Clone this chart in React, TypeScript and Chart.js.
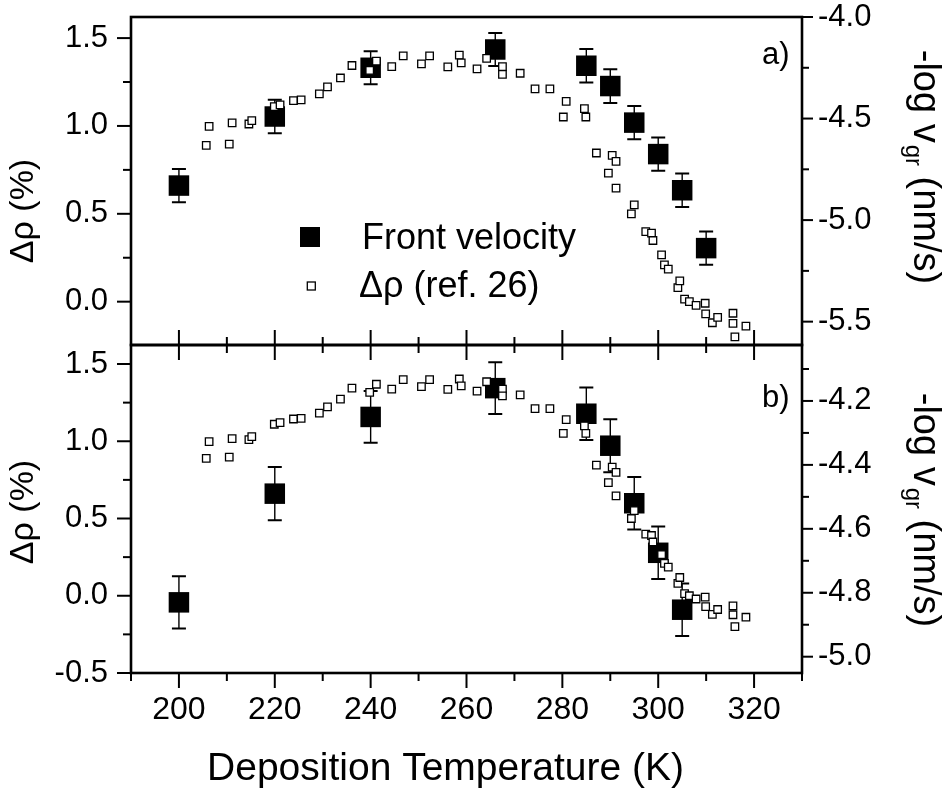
import React, { useEffect, useRef } from "react";
import { Chart, registerables } from "chart.js";

Chart.register(...registerables);

// Front velocity: -log v_gr (nm/s) vs deposition temperature (K)
const frontTemps = [200, 220, 240, 266, 285, 290, 295, 300, 305, 310];
const frontLogV = [-4.83, -4.49, -4.25, -4.16, -4.24, -4.34, -4.52, -4.675, -4.853, -5.138];
const frontErr = [0.082, 0.083, 0.081, 0.081, 0.082, 0.083, 0.082, 0.082, 0.082, 0.082];

// Δρ (ref. 26), %
const refTemps = [
  205.7, 206.3, 210.5, 211.1, 214.6, 215.2, 219.9, 221.1, 223.9, 225.5,
  229.3, 231.0, 233.7, 236.1, 239.8, 241.2, 244.4, 246.8, 250.6, 252.3,
  256.1, 258.5, 258.9, 262.2, 264.2, 267.5, 267.5, 271.2, 274.3, 277.4,
  280.2, 280.8, 284.6, 284.9, 287.1, 289.6, 290.4, 291.2, 291.2, 294.4,
  295.0, 297.4, 298.6, 298.9, 300.7, 301.3, 302.1, 304.1, 304.5, 305.5,
  306.5, 307.9, 309.8, 309.9, 311.3, 312.4, 315.6, 315.6, 316.0, 318.3,
];
const refRho = [
  0.889, 0.998, 0.897, 1.017, 1.011, 1.03, 1.11, 1.12, 1.144, 1.148,
  1.182, 1.222, 1.273, 1.344, 1.316, 1.369, 1.338, 1.399, 1.353, 1.399,
  1.336, 1.403, 1.359, 1.325, 1.385, 1.338, 1.294, 1.3, 1.211, 1.211,
  1.051, 1.14, 1.099, 1.051, 0.846, 0.732, 0.832, 0.798, 0.646, 0.5,
  0.551, 0.399, 0.39, 0.348, 0.266, 0.209, 0.185, 0.08, 0.118, 0.014,
  0.0, -0.021, -0.009, -0.07, -0.12, -0.089, -0.066, -0.123, -0.2, -0.139,
];

// Labelled (major) ticks
const xMajorTicks = [200, 220, 240, 260, 280, 300, 320];
const leftMajorA = [0, 0.5, 1.0, 1.5];
const rightMajorA = [-4.0, -4.5, -5.0, -5.5];
const leftMajorB = [-0.5, 0, 0.5, 1.0, 1.5];
const rightMajorB = [-4.2, -4.4, -4.6, -4.8, -5.0];

const FONT = '"Liberation Sans", Arial, Helvetica, sans-serif';
const W = 942;
const H = 789;
const AREA_LEFT = 131;
const AREA_RIGHT = 802;

type Panel = {
  key: "a" | "b";
  top: number;
  bottom: number;
  yMin: number;
  yMax: number;
  yStep: number;
  yMajor: number[];
  y2Min: number;
  y2Max: number;
  y2Step: number;
  y2Major: number[];
  label: string;
  labelBaseline: number;
  leftTitleY: number;
  rightTitleY: number;
};

const panels: Panel[] = [
  {
    key: "a",
    top: 17,
    bottom: 345,
    yMin: -0.2466,
    yMax: 1.62,
    yStep: 0.25,
    yMajor: leftMajorA,
    y2Min: -5.615,
    y2Max: -4.0,
    y2Step: 0.25,
    y2Major: rightMajorA,
    label: "a)",
    labelBaseline: 64,
    leftTitleY: 211,
    rightTitleY: 167,
  },
  {
    key: "b",
    top: 345,
    bottom: 673,
    yMin: -0.5,
    yMax: 1.623,
    yStep: 0.25,
    yMajor: leftMajorB,
    y2Min: -5.051,
    y2Max: -4.025,
    y2Step: 0.1,
    y2Major: rightMajorB,
    label: "b)",
    labelBaseline: 407,
    leftTitleY: 512,
    rightTitleY: 510,
  },
];

const near = (a: number, b: number) => Math.abs(a - b) < 1e-6;
const inList = (v: number, list: number[]) => list.some((m) => near(m, v));
const fmt = (v: number) => (Math.abs(v) < 1e-9 ? "0.0" : v.toFixed(1));

const zeroPadding = (s: any) => {
  s.paddingTop = 0;
  s.paddingBottom = 0;
  s.paddingLeft = 0;
  s.paddingRight = 0;
};

function makePlugin(panel: Panel) {
  return {
    id: "panelDeco" + panel.key,
    beforeDatasetsDraw(chart: any) {
      const { ctx, chartArea: a } = chart;
      const xs = chart.scales.x;
      const ys = chart.scales.y2;
      ctx.save();
      ctx.beginPath();
      ctx.rect(a.left, a.top, a.right - a.left, a.bottom - a.top);
      ctx.clip();
      ctx.strokeStyle = "#000";
      for (let i = 0; i < frontTemps.length; i++) {
        const px = xs.getPixelForValue(frontTemps[i]);
        const pTop = ys.getPixelForValue(frontLogV[i] + frontErr[i]);
        const pBot = ys.getPixelForValue(frontLogV[i] - frontErr[i]);
        ctx.lineWidth = 1.4;
        ctx.beginPath();
        ctx.moveTo(px, pTop);
        ctx.lineTo(px, pBot);
        ctx.stroke();
        ctx.lineWidth = 2;
        ctx.beginPath();
        ctx.moveTo(px - 7, pTop);
        ctx.lineTo(px + 7, pTop);
        ctx.moveTo(px - 7, pBot);
        ctx.lineTo(px + 7, pBot);
        ctx.stroke();
      }
      ctx.restore();
    },
    afterDraw(chart: any) {
      const { ctx, chartArea: a } = chart;
      const xs = chart.scales.x;
      const yl = chart.scales.y;
      const yr = chart.scales.y2;
      ctx.save();
      ctx.strokeStyle = "#000";
      ctx.fillStyle = "#000";

      const line = (x1: number, y1: number, x2: number, y2: number) => {
        ctx.beginPath();
        ctx.moveTo(x1, y1);
        ctx.lineTo(x2, y2);
        ctx.stroke();
      };

      // tick marks
      ctx.lineWidth = 2;
      for (const t of yl.ticks) {
        if (t.value < yl.min - 1e-9 || t.value > yl.max + 1e-9) continue;
        const p = yl.getPixelForValue(t.value);
        const len = inList(t.value, panel.yMajor) ? 14 : 8;
        line(a.left - len, p, a.left, p);
      }
      for (const t of yr.ticks) {
        if (t.value < yr.min - 1e-9 || t.value > yr.max + 1e-9) continue;
        const p = yr.getPixelForValue(t.value);
        const len = inList(t.value, panel.y2Major) ? 11 : 7;
        line(a.right, p, a.right + len, p);
      }
      for (const t of xs.ticks) {
        if (t.value < xs.min - 1e-9 || t.value > xs.max + 1e-9) continue;
        const p = xs.getPixelForValue(t.value);
        const len = inList(t.value, xMajorTicks) ? 15 : 8;
        if (panel.key === "a") {
          line(p, a.bottom, p, a.bottom - len);
        } else {
          line(p, a.top, p, a.top + len);
          line(p, a.bottom, p, a.bottom + len);
        }
      }

      // frame
      ctx.lineWidth = 2.6;
      ctx.strokeRect(a.left, a.top, a.right - a.left, a.bottom - a.top);

      // left title
      ctx.save();
      ctx.font = `34px ${FONT}`;
      ctx.textAlign = "center";
      ctx.textBaseline = "alphabetic";
      ctx.translate(33, panel.leftTitleY);
      ctx.rotate(-Math.PI / 2);
      ctx.fillText("Δρ (%)", 0, 0);
      ctx.restore();

      // right title with subscript
      ctx.save();
      const fBig = `38px ${FONT}`;
      const fSub = `24px ${FONT}`;
      ctx.font = fBig;
      const p1 = "-log v";
      const p3 = " (nm/s)";
      const w1 = ctx.measureText(p1).width;
      const w3 = ctx.measureText(p3).width;
      ctx.font = fSub;
      const w2 = ctx.measureText("gr").width + 2;
      const total = w1 + w2 + w3;
      ctx.translate(914, panel.rightTitleY);
      ctx.rotate(Math.PI / 2);
      ctx.textAlign = "left";
      ctx.textBaseline = "alphabetic";
      const s = -total / 2;
      ctx.font = fBig;
      ctx.fillText(p1, s, 0);
      ctx.font = fSub;
      ctx.fillText("gr", s + w1 + 2, 8);
      ctx.font = fBig;
      ctx.fillText(p3, s + w1 + w2, 0);
      ctx.restore();

      // panel label
      ctx.font = `31px ${FONT}`;
      ctx.textAlign = "left";
      ctx.textBaseline = "alphabetic";
      ctx.fillText(panel.label, 762, panel.labelBaseline);

      if (panel.key === "a") {
        // legend
        ctx.fillRect(300, 227, 20, 20);
        ctx.font = `36px ${FONT}`;
        ctx.fillText("Front velocity", 362, 249);
        ctx.fillStyle = "#fff";
        ctx.fillRect(307.3, 282, 8, 8);
        ctx.lineWidth = 1.3;
        ctx.strokeRect(307.3, 282, 8, 8);
        ctx.fillStyle = "#000";
        ctx.fillText("Δρ (ref. 26)", 359, 297);
      } else {
        // x title
        ctx.font = `39px ${FONT}`;
        ctx.textAlign = "center";
        ctx.fillText("Deposition Temperature (K)", 445.5, 780);
      }
      ctx.restore();
    },
  };
}

function makeChart(canvas: HTMLCanvasElement, panel: Panel) {
  const showX = panel.key === "b";
  return new Chart(canvas, {
    type: "scatter",
    data: {
      datasets: [
        {
          label: "Δρ (ref. 26)",
          data: refTemps.map((t, i) => ({ x: t, y: refRho[i] })),
          yAxisID: "y",
          pointStyle: "rect",
          pointRadius: 5.3,
          pointHoverRadius: 5.3,
          borderWidth: 1.3,
          borderColor: "#000",
          backgroundColor: "#fff",
          order: 0,
        },
        {
          label: "Front velocity",
          data: frontTemps.map((t, i) => ({ x: t, y: frontLogV[i] })),
          yAxisID: "y2",
          pointStyle: "rect",
          pointRadius: 14.5,
          pointHoverRadius: 14.5,
          borderWidth: 0,
          borderColor: "#000",
          backgroundColor: "#000",
          order: 1,
        },
      ],
    },
    options: {
      responsive: false,
      maintainAspectRatio: false,
      animation: false,
      events: [],
      layout: {
        padding: { left: 0, right: 0, top: panel.top, bottom: 0 },
        autoPadding: false,
      },
      plugins: {
        legend: { display: false },
        tooltip: { enabled: false },
      },
      scales: {
        x: {
          type: "linear",
          position: "bottom",
          min: 190,
          max: 330,
          grid: { display: false, drawTicks: false, tickLength: 0 },
          border: { display: false },
          ticks: {
            display: showX,
            stepSize: 10,
            autoSkip: false,
            maxRotation: 0,
            minRotation: 0,
            includeBounds: false,
            padding: 18,
            color: "#000",
            font: { family: FONT, size: 32 },
            callback: (v: any) => (inList(Number(v), xMajorTicks) ? String(Math.round(Number(v))) : ""),
          },
          afterFit: (s: any) => {
            s.height = H - panel.bottom;
            zeroPadding(s);
          },
        },
        y: {
          type: "linear",
          position: "left",
          min: panel.yMin,
          max: panel.yMax,
          grid: { display: false, drawTicks: false, tickLength: 0 },
          border: { display: false },
          ticks: {
            stepSize: panel.yStep,
            autoSkip: false,
            includeBounds: false,
            padding: 23,
            color: "#000",
            font: { family: FONT, size: 31 },
            callback: (v: any) => (inList(Number(v), panel.yMajor) ? fmt(Number(v)) : ""),
          },
          afterFit: (s: any) => {
            s.width = AREA_LEFT;
            zeroPadding(s);
          },
        },
        y2: {
          type: "linear",
          position: "right",
          min: panel.y2Min,
          max: panel.y2Max,
          grid: { display: false, drawTicks: false, tickLength: 0 },
          border: { display: false },
          ticks: {
            stepSize: panel.y2Step,
            autoSkip: false,
            includeBounds: false,
            padding: 16,
            color: "#000",
            font: { family: FONT, size: 31 },
            callback: (v: any) => (inList(Number(v), panel.y2Major) ? fmt(Number(v)) : ""),
          },
          afterFit: (s: any) => {
            s.width = W - AREA_RIGHT;
            zeroPadding(s);
          },
        },
      },
    } as any,
    plugins: [makePlugin(panel) as any],
  });
}

export default function App() {
  const refA = useRef<HTMLCanvasElement>(null);
  const refB = useRef<HTMLCanvasElement>(null);

  useEffect(() => {
    const charts: Chart[] = [];
    if (refA.current) charts.push(makeChart(refA.current, panels[0]));
    if (refB.current) charts.push(makeChart(refB.current, panels[1]));
    return () => charts.forEach((c) => c.destroy());
  }, []);

  const canvasStyle: React.CSSProperties = {
    position: "absolute",
    left: 0,
    top: 0,
    width: W,
    height: H,
  };

  return (
    <div
      style={{
        position: "absolute",
        left: 0,
        top: 0,
        width: W,
        height: H,
        background: "#fff",
        overflow: "hidden",
      }}
    >
      <canvas ref={refA} width={W} height={H} style={canvasStyle} />
      <canvas ref={refB} width={W} height={H} style={canvasStyle} />
    </div>
  );
}
